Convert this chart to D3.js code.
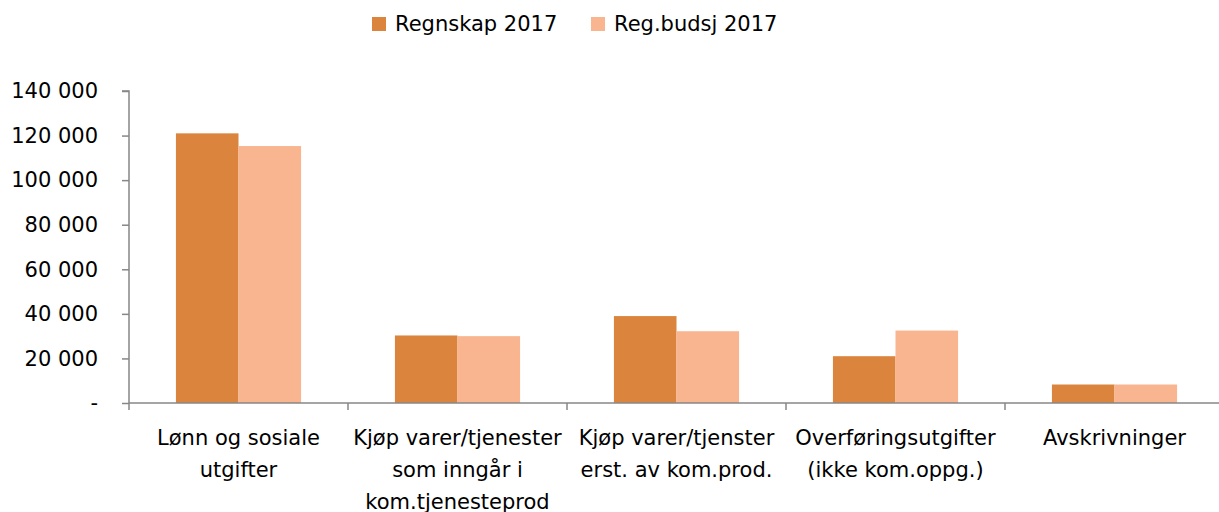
<!DOCTYPE html>
<html>
<head>
<meta charset="utf-8">
<script src="https://cdn.jsdelivr.net/npm/d3@7"></script>
<style>
  body { margin: 0; background: #fff; }
  text { font-family: "DejaVu Sans", sans-serif; fill: #000; }
</style>
</head>
<body>
<div id="chart"></div>
<script>
let categories = [
  ['Lønn og sosiale', 'utgifter'],
  ['Kjøp varer/tjenester', 'som inngår i', 'kom.tjenesteprod'],
  ['Kjøp varer/tjenster', 'erst. av kom.prod.'],
  ['Overføringsutgifter', '(ikke kom.oppg.)'],
  ['Avskrivninger']
]
let seriesNames = ['Regnskap 2017', 'Reg.budsj 2017']
let regnskap = [121000, 30300, 39000, 21000, 8300]
let budsjett = [115300, 30000, 32200, 32500, 8300]
let yTicks = [0, 20000, 40000, 60000, 80000, 100000, 120000, 140000]
let colors = ['#DB843D', '#F9B590']

let width = 1219
let height = 512
let plotLeft = 129
let plotRight = 1224
let plotTop = 91
let plotBottom = 403
let fontSize = '21px'

let svg = d3.select('#chart')
  .append('svg')
    .attr('width', width)
    .attr('height', height)

let x = d3.scaleBand()
  .domain(d3.range(categories.length))
  .range([plotLeft, plotRight])

let x1 = d3.scaleBand()
  .domain([0, 1])
  .range([0, x.bandwidth()])
  .paddingInner(0)
  .paddingOuter(0.75)

let y = d3.scaleLinear()
  .domain([0, 140000])
  .range([plotBottom, plotTop])

let fmt = (d) => d === 0 ? '-' : d3.format(',')(d).replace(/,/g, ' ')

// bars
let groups = svg.selectAll('g.cat')
  .data(categories.map((c, i) => [regnskap[i], budsjett[i]]))
  .enter()
  .append('g')
    .attr('transform', (d, i) => `translate(${x(i)},0)`)

groups.selectAll('rect')
  .data((d) => d)
  .enter()
  .append('rect')
    .attr('x', (d, j) => x1(j))
    .attr('y', (d) => y(d))
    .attr('width', x1.bandwidth())
    .attr('height', (d) => plotBottom - y(d))
    .attr('fill', (d, j) => colors[j])

// y axis
let yAxis = svg.append('g')
  .attr('transform', `translate(${plotLeft},0)`)
  .call(d3.axisLeft(y).tickValues(yTicks).tickFormat(fmt).tickSize(7).tickPadding(24))

yAxis.selectAll('text').style('font-size', fontSize)
yAxis.selectAll('line, path').attr('stroke', '#878787').attr('stroke-width', 1.5)
yAxis.select('.domain').attr('d', `M-7,${plotTop}H0V${plotBottom}`)

// x axis
let xAxis = svg.append('g')
  .attr('transform', `translate(0,${plotBottom})`)

xAxis.append('line')
  .attr('x1', plotLeft)
  .attr('x2', plotRight)
  .attr('stroke', '#878787')
  .attr('stroke-width', 1.5)

xAxis.selectAll('line.tick')
  .data(d3.range(categories.length + 1))
  .enter()
  .append('line')
    .attr('x1', (d) => d < categories.length ? x(d) : plotRight)
    .attr('x2', (d) => d < categories.length ? x(d) : plotRight)
    .attr('y1', 0)
    .attr('y2', 7)
    .attr('stroke', '#878787')
    .attr('stroke-width', 1.5)

let labels = xAxis.selectAll('text.cat')
  .data(categories)
  .enter()
  .append('text')
    .attr('text-anchor', 'middle')
    .style('font-size', fontSize)
    .attr('x', (d, i) => x(i) + x.bandwidth() / 2)
    .attr('y', 42)

labels.selectAll('tspan')
  .data((d) => d)
  .enter()
  .append('tspan')
    .attr('x', function() { return this.parentNode.getAttribute('x') })
    .attr('dy', (d, j) => j === 0 ? 0 : 32)
    .text((d) => d)

// legend
let legendX = [372, 591]
let legend = svg.selectAll('g.legend')
  .data(seriesNames)
  .enter()
  .append('g')
    .attr('transform', (d, i) => `translate(${legendX[i]},17)`)

legend.append('rect')
  .attr('width', 14)
  .attr('height', 14)
  .attr('fill', (d, i) => colors[i])

legend.append('text')
  .attr('x', 23)
  .attr('y', 14)
  .style('font-size', fontSize)
  .text((d) => d)
</script>
</body>
</html>
